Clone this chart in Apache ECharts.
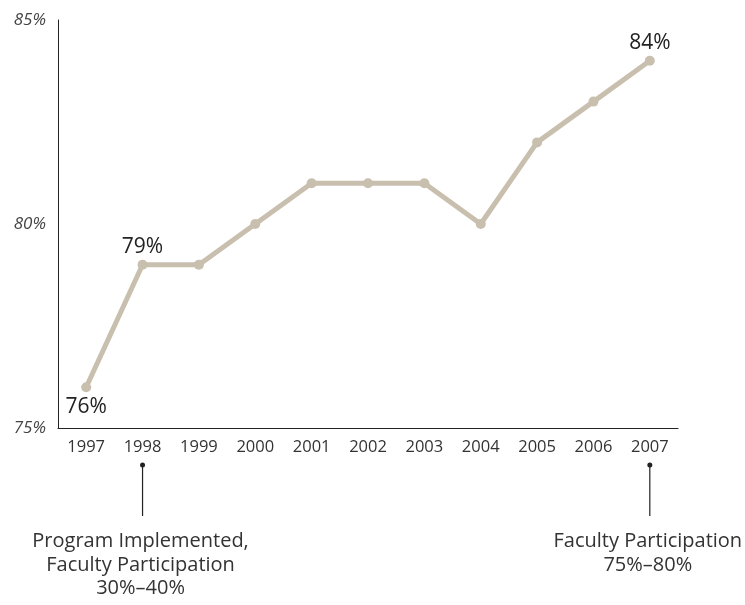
<!DOCTYPE html>
<html><head><meta charset="utf-8">
<script src="https://cdn.jsdelivr.net/npm/echarts@6/dist/echarts.min.js"></script>
<style>html,body{margin:0;padding:0;background:#fff}#c{width:745px;height:605px}</style>
</head><body><div id="c"></div>
<script>
const years = ['1997','1998','1999','2000','2001','2002','2003','2004','2005','2006','2007'];
const rates = [76, 79, 79, 80, 81, 81, 81, 80, 82, 83, 84];
const labelAbove = {'1998': true, '2007': true};
const labelBelow = {'1997': true};
const yTicks = [75, 80, 85];
const notes = [
  {year: '1998', text: 'Program Implemented,\nFaculty Participation\n30%\u201340%'},
  {year: '2007', text: 'Faculty Participation\n75%\u201380%'}
];
const FONT = '"Open Sans", "Noto Sans", sans-serif';
const chart = echarts.init(document.getElementById('c'));
const dataPts = rates.map((v, i) => {
  const y = years[i];
  const p = {value: v};
  if (labelAbove[y]) p.label = {show: true, position: 'top', distance: 2};
  else if (labelBelow[y]) p.label = {show: true, position: 'bottom', distance: 4};
  return p;
});
chart.setOption({
  animation: false,
  grid: {left: 58, right: 67, top: 20, bottom: 177},
  xAxis: {
    type: 'category', data: years, boundaryGap: true,
    axisLine: {lineStyle: {color: '#222', width: 1}},
    axisTick: {show: false},
    axisLabel: {color: '#333', fontSize: 16.5, fontFamily: FONT, margin: 11}
  },
  yAxis: {
    type: 'value', min: yTicks[0], max: yTicks[yTicks.length - 1], interval: 5,
    splitLine: {show: false},
    axisLine: {show: true, lineStyle: {color: '#222', width: 1}},
    axisTick: {show: false},
    axisLabel: {color: '#444', fontSize: 17, fontStyle: 'italic', fontFamily: FONT, margin: 12,
      formatter: v => v + '%'}
  },
  series: [{
    type: 'line', data: dataPts,
    lineStyle: {color: '#c9bfae', width: 5},
    itemStyle: {color: '#c9bfae'},
    symbol: 'circle', symbolSize: 10, showAllSymbol: true,
    label: {show: false, color: '#222', fontSize: 21, fontFamily: FONT, formatter: p => p.value + '%'}
  }]
});
const g = [];
notes.forEach(n => {
  const x = chart.convertToPixel({xAxisIndex: 0}, n.year);
  g.push({type: 'circle', shape: {cx: x, cy: 465, r: 2.5}, style: {fill: '#222'}});
  g.push({type: 'line', shape: {x1: x, y1: 465, x2: x, y2: 516}, style: {stroke: '#222', lineWidth: 1.2}});
  g.push({type: 'text', x: x - 2, y: 530, style: {text: n.text, fill: '#333', font: '20px ' + FONT, align: 'center', verticalAlign: 'top', lineHeight: 23.5}});
});
chart.setOption({graphic: g});
</script></body></html>
